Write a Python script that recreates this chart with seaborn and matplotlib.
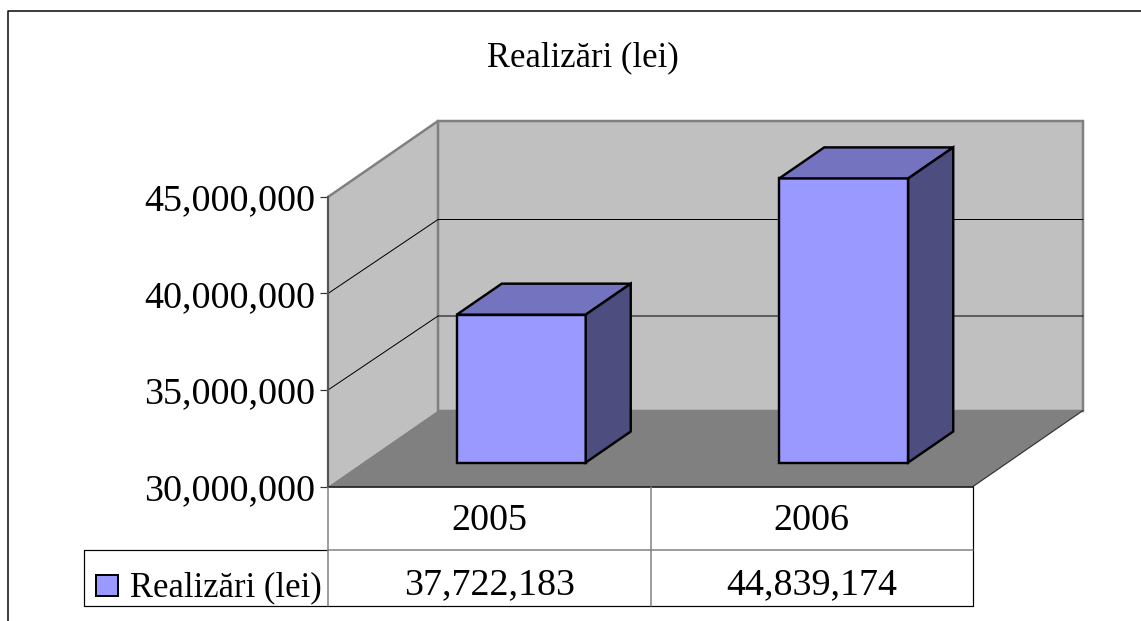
import matplotlib
matplotlib.use("Agg")
import matplotlib.pyplot as plt
import pandas as pd
import seaborn as sns
from matplotlib.lines import Line2D
from matplotlib.patches import Polygon, Rectangle
from matplotlib.transforms import Affine2D

# ---- data ----
title = "Realizări (lei)"
years = ["2005", "2006"]
values = [37722183, 44839174]
value_labels = ["37,722,183", "44,839,174"]
axis_ticks = [30000000, 35000000, 40000000, 45000000]
axis_tick_labels = ["30,000,000", "35,000,000", "40,000,000", "45,000,000"]
series_name = "Realizări (lei)"

# ---- style ----
W, H = 1141, 621
FRONT, TOP, SIDE = "#9999FF", "#7373BF", "#4D4D80"
WALL, FLOOR, EDGE = "#C0C0C0", "#808080", "#808080"
PX = 0.72  # points per pixel
FS_NUM = 38 * PX
FS_TXT = 34.6 * PX
DEPTH = (110, 76)        # wall depth in pixels
GRID_DEPTH = (110, 74)
BAR_SHIFT = (32, 24)     # bar front plane, pixels
BAR_DEPTH = (45, 31)     # bar depth, pixels
BAR_SCALE = 0.992        # slight perspective shrink of the bars

sns.set_style("white")
plt.rcParams["font.family"] = ["Liberation Serif", "DejaVu Serif"]
fig = plt.figure(figsize=(W / 100, H / 100), dpi=100, facecolor="white")
ax = fig.add_axes([328 / W, 1 - 486.5 / H, (973 - 328) / W, (486.5 - 197) / H])
ax.patch.set_visible(False)

df = pd.DataFrame({"year": years, "value": values})
sns.barplot(data=df, x="year", y="value", color=FRONT, saturation=1, width=0.4,
            edgecolor="black", linewidth=2.4 * PX, ax=ax, legend=False)
ax.set_xlim(-0.5, 1.5)
ax.set_ylim(axis_ticks[0], axis_ticks[-1])
ax.set(xlabel="", ylabel="")
ax.set_yticks(axis_ticks, axis_tick_labels)
ax.tick_params(axis="y", left=True, length=8 * PX, width=1.2 * PX, color="#333333",
               pad=5 * PX, labelsize=FS_NUM, labelcolor="black")
ax.tick_params(axis="x", bottom=False, labelbottom=False)
for s in ("top", "right"):
    ax.spines[s].set_visible(False)
ax.spines["left"].set_color("#555555")
ax.spines["left"].set_linewidth(2.2 * PX)
ax.spines["left"].set_zorder(2.5)
ax.spines["bottom"].set_color("black")
ax.spines["bottom"].set_linewidth(1.5 * PX)
ax.spines["bottom"].set_zorder(2.5)
ax.grid(False)

px = Affine2D().scale(1, -1).translate(0, H)   # top-left pixel layout
identity = Affine2D()
to_disp = ax.transData.transform


def disp(x, y, d=(0, 0)):
    a, b = to_disp((x, y))
    return (a + d[0], b + d[1])


x0, x1 = ax.get_xlim()
y0, y1 = ax.get_ylim()

# walls and floor
ax.add_patch(Polygon([disp(x0, y0), disp(x0, y1), disp(x0, y1, DEPTH), disp(x0, y0, DEPTH)],
                     closed=True, fc=WALL, ec="none", transform=identity, clip_on=False, zorder=0.5))
ax.add_patch(Polygon([disp(x0, y0, DEPTH), disp(x0, y1, DEPTH), disp(x1, y1, DEPTH), disp(x1, y0, DEPTH)],
                     closed=True, fc=WALL, ec=EDGE, lw=2.5 * PX, transform=identity, clip_on=False, zorder=0.6))
ax.add_patch(Polygon([disp(x0, y0), disp(x1, y0), disp(x1, y0, DEPTH), disp(x0, y0, DEPTH)],
                     closed=True, fc=FLOOR, ec="none", transform=identity, clip_on=False, zorder=0.7))
ax.add_line(Line2D(*zip(disp(x0, y1), disp(x0, y1, DEPTH)), color=EDGE, lw=2.5 * PX,
                   transform=identity, clip_on=False, zorder=0.8))
ax.add_line(Line2D(*zip(disp(x1, y0), disp(x1, y0, DEPTH)), color="#333333", lw=1.2 * PX,
                   transform=identity, clip_on=False, zorder=0.8))

# gridlines on the two walls
for t in axis_ticks[1:-1]:
    pts = [disp(x0, t), disp(x0, t, GRID_DEPTH), disp(x1, t, GRID_DEPTH)]
    ax.add_line(Line2D(*zip(*pts), color="black", lw=1 * PX, transform=identity,
                       clip_on=False, zorder=0.9))

# 3-D bar faces from the seaborn bars
base = to_disp((0, y0))[1]
bar_tf = (Affine2D().translate(0, -base).scale(1, BAR_SCALE)
          .translate(BAR_SHIFT[0], base + BAR_SHIFT[1]))
shift = ax.transData + bar_tf
bars = [p for p in ax.patches if isinstance(p, Rectangle)]
for bar, v in zip(bars, values):
    left, width = bar.get_x(), bar.get_width()
    bar.set_y(y0)
    bar.set_height(v - y0)
    bar.set_transform(shift)
    bar.set_clip_on(False)
    bar.set_zorder(3)
    bar.set_joinstyle("miter")
    fl, fr, br = bar_tf.transform([disp(left, v), disp(left + width, v), disp(left + width, y0)])
    dd = lambda p: (p[0] + BAR_DEPTH[0], p[1] + BAR_DEPTH[1])
    ax.add_patch(Polygon([fl, fr, dd(fr), dd(fl)], closed=True, fc=TOP, ec="black",
                         lw=2.4 * PX, transform=identity, clip_on=False, zorder=3))
    ax.add_patch(Polygon([fr, br, dd(br), dd(fr)], closed=True, fc=SIDE, ec="black",
                         lw=2.4 * PX, transform=identity, clip_on=False, zorder=3))

# outer frame (open on the right and bottom)
def hv(xs, ys, color, lw):
    fig.add_artist(Line2D(xs, ys, color=color, lw=lw * PX, transform=px))


hv([8, 8, W], [H, 10.5, 10.5], "#111111", 1.6)

# table grid
hv([973, 973, 84, 84, 328], [486.5, 606, 606, 549.5, 549.5], "black", 1.2)
hv([328, 973], [549.5, 549.5], "#808080", 1.5)
hv([328, 328], [486.5, 606], "#808080", 1.5)
hv([650.5, 650.5], [486.5, 606], "#808080", 1.5)

# texts
fig.text(583, 66.5, title, transform=px, ha="center", va="baseline", fontsize=FS_TXT, color="black")
for i, (yr, lab) in enumerate(zip(years, value_labels)):
    xc = ax.transData.transform((i, y0))[0]
    fig.text(xc, 530, yr, transform=px, ha="center", va="baseline", fontsize=FS_NUM, color="black")
    fig.text(xc, 594, lab, transform=px, ha="center", va="baseline", fontsize=FS_NUM, color="black")

fig.text(130, 596, series_name, transform=px, ha="left", va="baseline", fontsize=FS_TXT, color="black")
fig.add_artist(Rectangle((96, 575), 22, 21, fc=FRONT, ec="black", lw=2 * PX, transform=px))

fig.savefig("out.png", dpi=100, facecolor="white")
